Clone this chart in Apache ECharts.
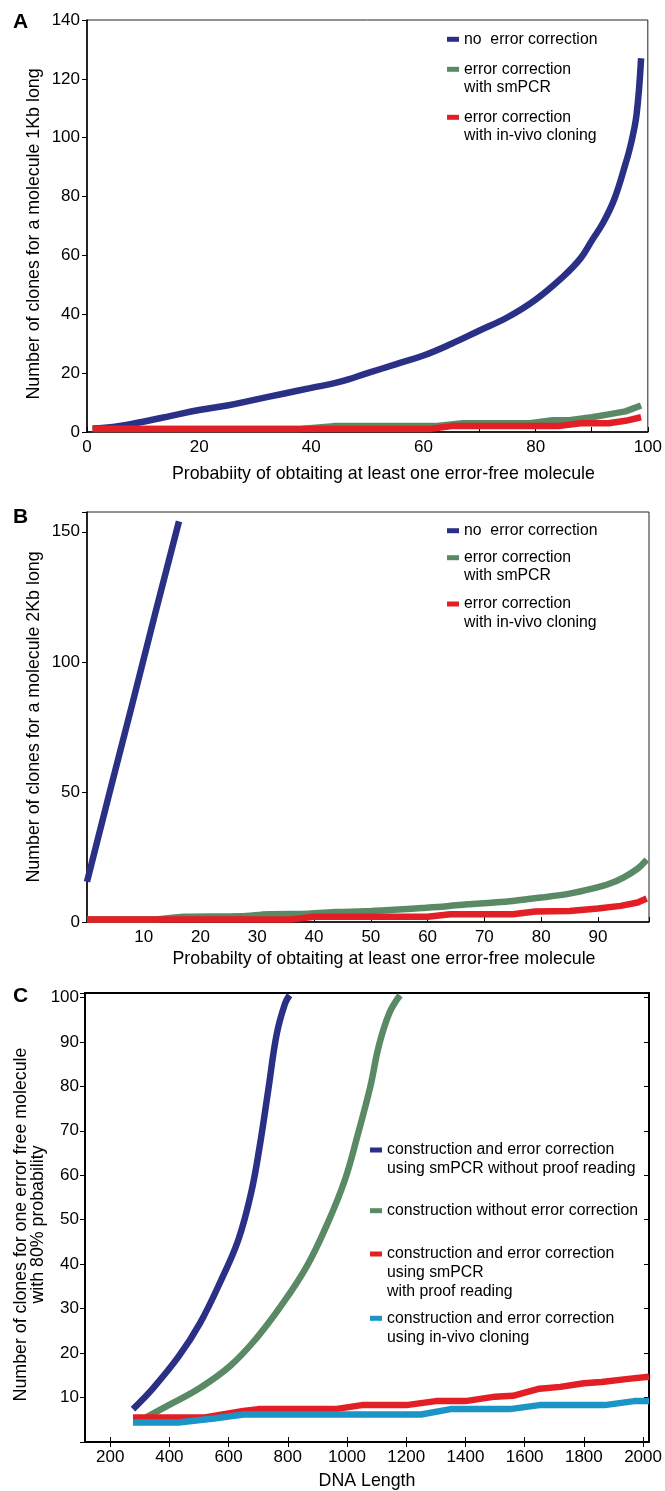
<!DOCTYPE html>
<html>
<head>
<meta charset="utf-8">
<title>clones vs probability</title>
<script src="https://cdn.jsdelivr.net/npm/echarts@6/dist/echarts.min.js"></script>
<style>
  html, body { margin: 0; padding: 0; background: #fff; }
  #main { width: 665px; height: 1491px; }
</style>
</head>
<body>
<div id="main"></div>
<script>
// ---- panel A : 1Kb molecule ----
const aBlueX = [1, 5, 10, 15, 20, 25, 30, 35, 40, 45, 50, 55, 60, 65, 70, 75, 80, 85, 88, 90, 92, 94, 96, 97, 98, 98.8]
const aBlueY = [1.2, 1.8, 3.5, 5.5, 7.5, 9, 11, 13, 15, 17, 20, 23, 26, 30, 34.5, 39, 45, 53, 59, 65, 71, 79, 91, 98, 108, 127]
const aGreenX = [1, 38, 44, 62, 67, 79, 83, 86, 90, 93, 96, 98.8]
const aGreenY = [1, 1, 2, 2, 3, 3, 4, 4, 5, 6, 7, 9]
const aRedX = [1, 61, 65, 84, 88, 93, 96, 98.8]
const aRedY = [1, 1, 2, 2, 3, 3, 3.8, 5]

// ---- panel B : 2Kb molecule ----
const bBlueX = [0, 4, 8, 12, 16.2]
const bBlueY = [15.5, 50, 84, 118.5, 154]
const bGreenX = [0, 12, 17, 27, 32, 39, 44, 49, 54, 59, 63, 67, 71, 75, 80, 85, 89, 92, 94.5, 97, 98.6]
const bGreenY = [1, 1, 2, 2.2, 3, 3.2, 3.8, 4.1, 4.7, 5.4, 6, 6.8, 7.4, 8.1, 9.4, 10.9, 12.8, 14.7, 17.1, 20.5, 24]
const bRedX = [0, 36, 40, 60, 64, 75, 79, 85, 90, 94, 97, 98.6]
const bRedY = [1, 1, 2, 2, 3, 3, 4, 4.2, 5.2, 6.2, 7.5, 9]

// ---- panel C : DNA length ----
const cBlueX = [277, 346, 432, 504, 576, 633, 676, 705, 734, 763, 791, 806]
const cBlueY = [7.4, 12.2, 19.3, 26.8, 36.6, 45.5, 56, 66.5, 79.2, 91.9, 98.7, 100.5]
const cGreenX = [320, 404, 504, 605, 691, 777, 864, 935, 993, 1035, 1079, 1107, 1143, 1179]
const cGreenY = [5.5, 8.5, 12.2, 17.1, 23.1, 30.6, 39.5, 49.3, 59, 68.8, 80, 89, 96.5, 100.5]
const cRedX = [277, 520, 580, 650, 700, 960, 1050, 1200, 1300, 1400, 1500, 1560, 1650, 1720, 1800, 1860, 1950, 2020]
const cRedY = [5.5, 5.5, 6.2, 7, 7.4, 7.4, 8.3, 8.3, 9.2, 9.2, 10.2, 10.4, 12, 12.4, 13.2, 13.5, 14.2, 14.7]
const cCyanX = [277, 430, 550, 650, 1250, 1350, 1550, 1650, 1870, 1970, 2020]
const cCyanY = [4.4, 4.4, 5.3, 6.2, 6.2, 7.4, 7.4, 8.3, 8.3, 9.2, 9.2]
const cTicks = [200, 400, 600, 800, 1000, 1200, 1400, 1600, 1800, 2000]

const namesAB = ['no  error correction', 'error correction\nwith smPCR', 'error correction\nwith in-vivo cloning']
const namesC = [
  'construction and error correction\nusing smPCR without proof reading',
  'construction without error correction',
  'construction and error correction\nusing smPCR\nwith proof reading',
  'construction and error correction\nusing in-vivo cloning'
]

const BLUE = '#2b3087', GREEN = '#5a8a65', RED = '#e31e24', CYAN = '#1a95c5'
const FONT = '"Liberation Sans", Arial, sans-serif'

const pairs = (xs, ys) => xs.map((x, i) => [x, ys[i]])

const line = (name, color, gi, xs, ys, smooth) => ({
  name, type: 'line', xAxisIndex: gi, yAxisIndex: gi,
  data: pairs(xs, ys), showSymbol: false, smooth: smooth || false,
  lineStyle: {color, width: 6.5, cap: 'butt', join: 'round'},
  itemStyle: {color}, silent: true, animation: false
})

const axisBase = {
  type: 'value', splitLine: {show: false}, nameMoveOverlap: false,
  axisLine: {lineStyle: {color: '#000', width: 1.5}},
  axisTick: {lineStyle: {color: '#000', width: 1}},
  axisLabel: {color: '#000', fontSize: 17, fontFamily: FONT},
  nameTextStyle: {color: '#000', fontSize: 17.8, fontFamily: FONT}
}
const ax = (o) => echarts.util.merge(echarts.util.clone(axisBase), o, true)

// one legend per item; blank lines on top keep the key level with the first text line
const legendItem = (name, color, left, firstLineY, lh) => {
  const n = name.split('\n').length
  return {
    left, top: firstLineY - (n - 0.5) * lh, padding: 0, orient: 'vertical',
    itemWidth: 12, itemHeight: 5, icon: 'rect', selectedMode: false,
    textStyle: {color: '#000', fontSize: 15.8, fontFamily: FONT, lineHeight: lh},
    formatter: nm => '\n'.repeat(n - 1) + nm,
    data: [{name, itemStyle: {color}}]
  }
}

const chart = echarts.init(document.getElementById('main'), null, {renderer: 'canvas'})

const letter = (text, top) => ({
  text, left: 13, top, padding: 0,
  textStyle: {fontSize: 21, fontWeight: 'bold', color: '#000', fontFamily: FONT}
})

chart.setOption({
  animation: false,
  backgroundColor: '#fff',
  textStyle: {fontFamily: FONT},
  title: [letter('A', 12), letter('B', 507), letter('C', 986)],
  grid: [
    {left: 87, top: 20, width: 562, height: 412, show: true, borderColor: '#222', borderWidth: 1},
    {left: 87, top: 512, width: 562, height: 410, show: true, borderColor: '#222', borderWidth: 1},
    {left: 85, top: 993, width: 564, height: 449, show: true, borderColor: '#000', borderWidth: 2}
  ],
  legend: [
    legendItem(namesAB[0], BLUE, 447, 39.3, 18.4),
    legendItem(namesAB[1], GREEN, 447, 69.3, 18.4),
    legendItem(namesAB[2], RED, 447, 117.3, 18.4),
    legendItem(namesAB[0], BLUE, 447, 530.7, 18.4),
    legendItem(namesAB[1], GREEN, 447, 557.7, 18.4),
    legendItem(namesAB[2], RED, 447, 604, 18.4),
    legendItem(namesC[0], BLUE, 370, 1150, 19),
    legendItem(namesC[1], GREEN, 370, 1210.7, 19),
    legendItem(namesC[2], RED, 370, 1254, 19),
    legendItem(namesC[3], CYAN, 370, 1318.3, 19)
  ],
  xAxis: [
    ax({
      gridIndex: 0, min: 0, max: 100, interval: 10,
      axisTick: {inside: true, length: 5},
      axisLabel: {margin: 7, formatter: v => (v % 20 === 0 ? String(v) : '')},
      name: 'Probabiity of obtaiting at least one error-free molecule',
      nameLocation: 'middle', nameGap: 33, nameTextStyle: {padding: [0, 0, 0, 32]}
    }),
    ax({
      gridIndex: 1, min: 0, max: 99, interval: 10,
      axisTick: {inside: true, length: 5},
      axisLabel: {margin: 7, formatter: v => (v > 0 && v % 10 === 0 ? String(v) : '')},
      name: 'Probabilty of obtaiting at least one error-free molecule',
      nameLocation: 'middle', nameGap: 28, nameTextStyle: {padding: [0, 0, 0, 32]}
    }),
    ax({
      gridIndex: 2, min: 115, max: 2020,
      axisLine: {lineStyle: {width: 2}},
      axisTick: {inside: true, length: 5, customValues: cTicks},
      axisLabel: {margin: 7, customValues: cTicks, formatter: v => String(v)},
      name: 'DNA Length', nameLocation: 'middle', nameGap: 30
    }),
    ax({
      gridIndex: 2, min: 115, max: 2020, position: 'top',
      axisLine: {lineStyle: {width: 2}},
      axisTick: {inside: true, length: 5, customValues: cTicks},
      axisLabel: {show: false}
    })
  ],
  yAxis: [
    ax({
      gridIndex: 0, min: 0, max: 140, interval: 20,
      axisTick: {length: 5},
      axisLabel: {margin: 7},
      name: 'Number of clones for a molecule 1Kb long',
      nameLocation: 'middle', nameRotate: 90, nameGap: 44,
      nameTextStyle: {padding: [0, 16, 0, 0]}
    }),
    ax({
      gridIndex: 1, min: 0, max: 157.6, interval: 50,
      axisTick: {length: 5},
      axisLabel: {margin: 7, formatter: v => (v % 50 === 0 ? String(v) : '')},
      name: 'Number of clones for a molecule 2Kb long',
      nameLocation: 'middle', nameRotate: 90, nameGap: 44
    }),
    ax({
      gridIndex: 2, min: 0, max: 101, interval: 10,
      axisLine: {lineStyle: {width: 2}},
      axisTick: {length: 5},
      axisLabel: {margin: 6, formatter: v => (v > 0 && v % 10 === 0 ? String(v) : '')},
      name: 'Number of clones for one error free molecule\nwith 80% probability',
      nameLocation: 'middle', nameRotate: 90, nameGap: 38,
      nameTextStyle: {lineHeight: 17.5, padding: [0, 14, 0, 0]}
    }),
    ax({
      gridIndex: 2, min: 0, max: 101, interval: 10, position: 'right',
      axisLine: {lineStyle: {width: 2}},
      axisTick: {inside: true, length: 5},
      axisLabel: {show: false}
    })
  ],
  series: [
    line(namesAB[0], BLUE, 0, aBlueX, aBlueY, 0.4),
    line(namesAB[1], GREEN, 0, aGreenX, aGreenY),
    line(namesAB[2], RED, 0, aRedX, aRedY),
    line(namesAB[0], BLUE, 1, bBlueX, bBlueY),
    line(namesAB[1], GREEN, 1, bGreenX, bGreenY, 0.3),
    line(namesAB[2], RED, 1, bRedX, bRedY),
    line(namesC[0], BLUE, 2, cBlueX, cBlueY, 0.4),
    line(namesC[1], GREEN, 2, cGreenX, cGreenY, 0.4),
    line(namesC[2], RED, 2, cRedX, cRedY),
    line(namesC[3], CYAN, 2, cCyanX, cCyanY)
  ]
})

window.addEventListener('resize', () => chart.resize())
</script>
</body>
</html>
